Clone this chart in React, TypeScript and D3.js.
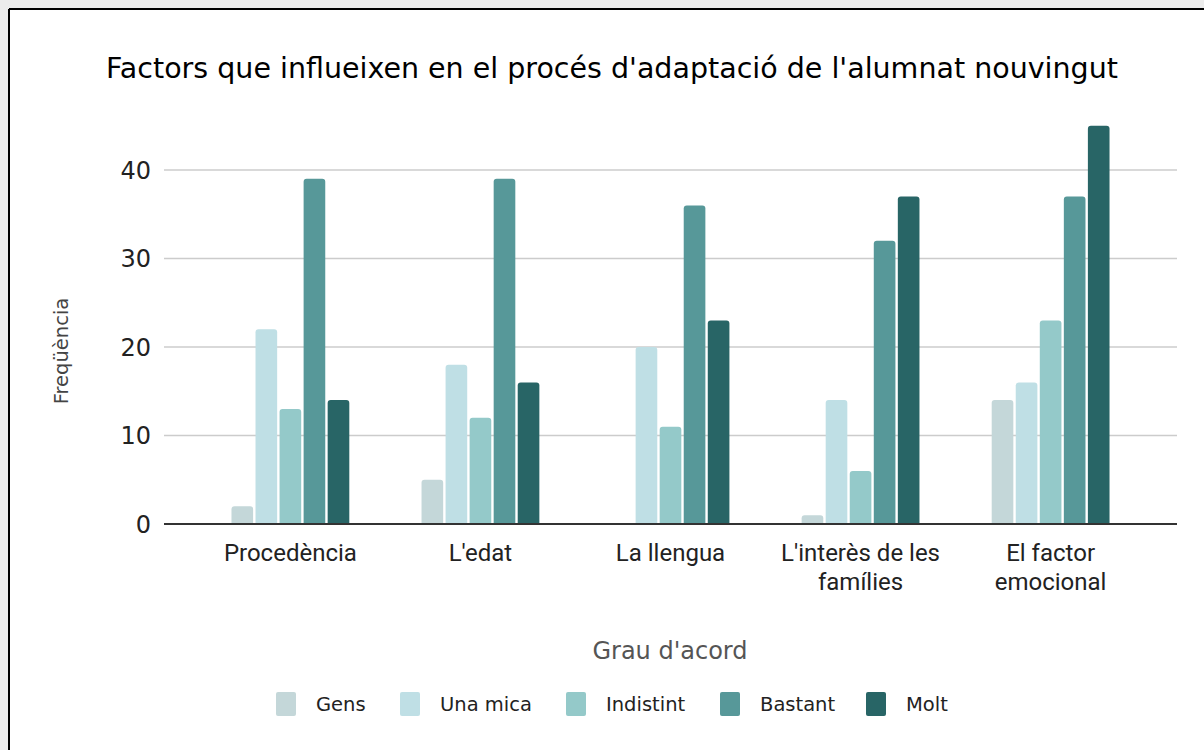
import * as d3 from "d3";

const categories = [
  ["Procedència"],
  ["L'edat"],
  ["La llengua"],
  ["L'interès de les", "famílies"],
  ["El factor", "emocional"],
];
const series = ["Gens", "Una mica", "Indistint", "Bastant", "Molt"];
const colors = ["#c4d7d9", "#bfdfe5", "#94c9c9", "#579899", "#286566"];
// values[category][series]
const values = [
  [2, 22, 13, 39, 14],
  [5, 18, 12, 39, 16],
  [0, 20, 11, 36, 23],
  [1, 14, 6, 32, 37],
  [14, 16, 23, 37, 45],
];
const yTicks = [0, 10, 20, 30, 40];

const W = 1204;
const H = 750;
const left = 164;
const right = 1177;
const base = 524;

export default function App() {
  const keys = categories.map((c) => c.join(" "));
  const x = d3.scaleBand().domain(keys).range([left, right]).paddingInner(0.38).paddingOuter(0.355);
  const xs = d3.scaleBand().domain(series).range([0, x.bandwidth()]).paddingInner(0.1);
  const y = d3.scaleLinear().domain([0, 40]).range([base, 170]);

  const barPath = (x0: number, w: number, v: number) => {
    const top = y(v);
    const h = base - top;
    if (h <= 0) return "";
    const r = Math.min(3, h, w / 2);
    return `M${x0},${base}V${top + r}Q${x0},${top} ${x0 + r},${top}H${x0 + w - r}Q${x0 + w},${top} ${x0 + w},${top + r}V${base}Z`;
  };

  return (
    <div style={{ position: "absolute", left: 0, top: 0, width: W, height: H }}>
      <svg width={W} height={H} style={{ display: "block" }}>
        <rect x={0} y={0} width={W} height={H} fill="#ececec" />
        <rect x={9} y={9} width={W} height={H} fill="#fff" />
        <line x1={9} x2={W} y1={9} y2={9} stroke="#000" strokeWidth={2} />
        <line x1={9} x2={9} y1={9} y2={H} stroke="#000" strokeWidth={2} />

        <text x={612} y={78} textAnchor="middle" fontFamily="DejaVu Sans" fontSize={28.5} fill="#000">
          Factors que influeixen en el procés d'adaptació de l'alumnat nouvingut
        </text>

        {yTicks.map((t) => (
          <g key={t}>
            {t > 0 && <line x1={left} x2={right} y1={y(t)} y2={y(t)} stroke="#cccccc" strokeWidth={1.5} />}
            <text x={151} y={y(t)} dy="0.36em" textAnchor="end" fontFamily="DejaVu Sans" fontSize={24} fill="#222">
              {t}
            </text>
          </g>
        ))}

        {values.map((row, i) =>
          row.map((v, j) => (
            <path
              key={`${i}-${j}`}
              d={barPath(x(keys[i])! + xs(series[j])!, xs.bandwidth(), v)}
              fill={colors[j]}
            />
          ))
        )}

        <line x1={left} x2={right} y1={base} y2={base} stroke="#333" strokeWidth={2} />

        {categories.map((lines, i) => (
          <text
            key={i}
            x={x(keys[i])! + x.bandwidth() / 2}
            y={561}
            textAnchor="middle"
            fontFamily="Roboto"
            fontSize={24}
            fill="#222"
          >
            {lines.map((l, k) => (
              <tspan key={k} x={x(keys[i])! + x.bandwidth() / 2} dy={k === 0 ? 0 : 29}>
                {l}
              </tspan>
            ))}
          </text>
        ))}

        <text
          transform="translate(68,351) rotate(-90)"
          textAnchor="middle"
          fontFamily="DejaVu Sans"
          fontSize={19.5}
          fill="#444"
        >
          Freqüència
        </text>

        <text x={670} y={659} textAnchor="middle" fontFamily="DejaVu Sans" fontSize={24} fill="#555">
          Grau d'acord
        </text>

        {series.map((s, j) => {
          const lx = [276, 400, 566, 720, 866][j];
          return (
            <g key={s}>
              <rect x={lx} y={692} width={20} height={24} rx={2} fill={colors[j]} />
              <text x={lx + 40} y={711} fontFamily="DejaVu Sans" fontSize={19.5} fill="#222">
                {s}
              </text>
            </g>
          );
        })}
      </svg>
    </div>
  );
}
